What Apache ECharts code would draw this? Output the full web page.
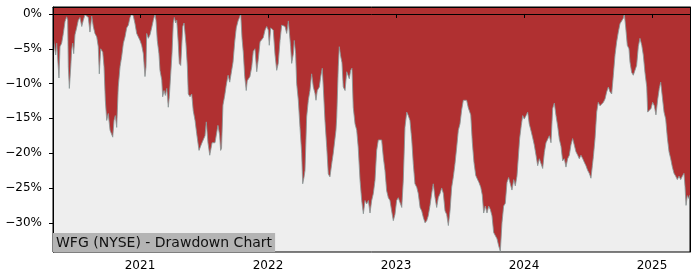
<!DOCTYPE html>
<html>
<head>
<meta charset="utf-8">
<script src="https://cdn.jsdelivr.net/npm/echarts@6/dist/echarts.min.js"></script>
<style>html,body{margin:0;padding:0;background:#fff}#c{width:700px;height:280px}</style>
</head>
<body>
<div id="c"></div>
<script>
// Chart title
const chartTitle = 'WFG (NYSE) - Drawdown Chart';
// Axis ticks
const yearTicks = [2021, 2022, 2023, 2024, 2025];
const pctTicks = [0, -5, -10, -15, -20, -25, -30];
// Drawdown (%) by decimal year
const dd2020 = [
[2020.323,-3.5],[2020.336,-3.5],[2020.341,-5.9],[2020.349,-4.2],[2020.367,-9.2],[2020.375,-4.7],[2020.388,-4.2],[2020.401,-2.8],[2020.414,-1.1],[2020.427,-0.4],
[2020.435,-0.9],[2020.440,-7.6],[2020.448,-10.7],[2020.459,-7.6],[2020.466,-5.2],[2020.474,-4.2],[2020.482,-5.7],[2020.492,-3.0],[2020.505,-2.0],[2020.518,-0.9],
[2020.531,-0.5],[2020.545,-1.8],[2020.557,-0.9],[2020.570,-0.1],[2020.584,0],[2020.596,-0.5],[2020.609,-2.6],[2020.623,-0.3],[2020.635,-1.8],[2020.648,-2.8],
[2020.662,-3.3],[2020.674,-4.7],[2020.682,-8.6],[2020.693,-5.0],[2020.709,-5.5],[2020.719,-7.6],[2020.729,-12.4],[2020.740,-15.3],[2020.752,-14.3],[2020.766,-16.7],
[2020.787,-17.7],[2020.797,-15.3],[2020.807,-14.6],[2020.818,-16.3],[2020.830,-10.5],[2020.844,-7.6],[2020.857,-6.1],[2020.870,-4.2],[2020.883,-3.3],[2020.896,-2.0],
[2020.909,-1.6],[2020.922,-0.5],[2020.935,0],[2020.948,-0.3],[2020.961,-1.4],[2020.974,-2.8],[2020.987,-3.3]
];
const dd2021 = [
[2021.000,-3.8],[2021.013,-4.5],[2021.026,-5.7],[2021.039,-9.0],[2021.047,-7.6],[2021.052,-2.8],[2021.065,-3.5],[2021.078,-3.0],[2021.091,-2.0],[2021.104,-0.9],
[2021.117,0],[2021.125,-0.9],[2021.135,-3.8],[2021.148,-5.7],[2021.156,-8.1],[2021.170,-9.5],[2021.177,-11.9],[2021.188,-11.0],[2021.198,-11.7],[2021.209,-10.7],
[2021.221,-13.4],[2021.229,-11.9],[2021.240,-8.6],[2021.250,-5.7],[2021.260,-1.3],[2021.268,-0.5],[2021.279,-1.3],[2021.287,-0.9],[2021.299,-4.2],[2021.307,-7.1],
[2021.318,-7.4],[2021.326,-7.6],[2021.334,-1.8],[2021.344,-1.3],[2021.352,-1.1],[2021.359,-4.2],[2021.370,-7.6],[2021.377,-11.5],[2021.391,-11.9],[2021.404,-11.5],
[2021.416,-13.9],[2021.430,-15.3],[2021.443,-17.2],[2021.461,-19.6],[2021.482,-18.6],[2021.508,-17.5],[2021.518,-15.5],[2021.531,-18.5],[2021.545,-20.3],[2021.563,-18.5],
[2021.586,-18.5],[2021.609,-16.0],[2021.622,-17.4],[2021.630,-19.6],[2021.637,-19.3],[2021.648,-13.1],[2021.662,-11.7],[2021.674,-10.2],[2021.688,-8.8],[2021.701,-9.8],
[2021.713,-10.0],[2021.727,-6.9],[2021.740,-4.0],[2021.752,-2.0],[2021.766,-1.0],[2021.779,-0.4],[2021.787,0],[2021.797,-3.5],[2021.807,-5.5],[2021.818,-9.0],
[2021.830,-11.0],[2021.838,-9.6],[2021.849,-9.4],[2021.859,-9.0],[2021.873,-7.6],[2021.885,-5.4],[2021.898,-5.0],[2021.912,-8.3],[2021.924,-6.5],[2021.938,-4.0],
[2021.951,-4.2],[2021.963,-3.4],[2021.977,-2.3],[2021.990,-1.8]
];
const dd2022 = [
[2022.002,-2.3],[2022.010,-4.5],[2022.021,-2.0],[2022.034,-1.8],[2022.041,-2.3],[2022.055,-5.9],[2022.068,-8.1],[2022.080,-7.1],[2022.094,-3.8],[2022.107,-1.6],
[2022.120,-1.4],[2022.133,-1.8],[2022.146,-2.8],[2022.159,-1.0],[2022.166,-0.9],[2022.177,-4.7],[2022.185,-7.1],[2022.198,-5.7],[2022.205,-3.8],[2022.216,-5.7],
[2022.224,-10.0],[2022.237,-12.4],[2022.250,-16.3],[2022.263,-20.0],[2022.271,-24.4],[2022.281,-23.5],[2022.289,-22.5],[2022.302,-14.8],[2022.315,-12.4],[2022.328,-11.0],
[2022.341,-8.6],[2022.354,-10.5],[2022.367,-11.4],[2022.375,-12.4],[2022.385,-11.0],[2022.401,-10.5],[2022.412,-9.0],[2022.424,-7.8],[2022.432,-10.5],[2022.445,-15.3],
[2022.459,-19.2],[2022.471,-23.0],[2022.484,-23.4],[2022.498,-21.5],[2022.510,-20.0],[2022.531,-16.7],[2022.537,-14.8],[2022.549,-7.6],[2022.557,-4.7],[2022.568,-6.1],
[2022.578,-7.0],[2022.588,-10.5],[2022.602,-11.0],[2022.615,-8.3],[2022.627,-8.3],[2022.635,-9.3],[2022.646,-8.1],[2022.656,-7.8],[2022.666,-13.4],[2022.680,-15.8],
[2022.693,-16.7],[2022.705,-19.2],[2022.719,-23.9],[2022.732,-26.8],[2022.745,-28.7],[2022.758,-26.8],[2022.771,-27.3],[2022.784,-26.8],[2022.797,-28.6],[2022.810,-26.8],
[2022.823,-25.8],[2022.836,-23.9],[2022.849,-19.6],[2022.862,-18.1],[2022.875,-17.9],[2022.888,-18.1],[2022.901,-20.6],[2022.914,-22.5],[2022.927,-25.4],[2022.940,-26.4],
[2022.953,-26.8],[2022.966,-28.3],[2022.979,-29.7],[2022.992,-28.8]
];
const dd2023 = [
[2023.005,-26.8],[2023.018,-26.4],[2023.031,-26.4],[2023.045,-27.8],[2023.057,-23.9],[2023.070,-16.3],[2023.084,-14.1],[2023.096,-14.6],[2023.109,-15.3],[2023.123,-18.1],
[2023.135,-21.5],[2023.148,-24.4],[2023.162,-24.9],[2023.174,-25.8],[2023.188,-27.8],[2023.201,-28.3],[2023.213,-29.2],[2023.227,-30.0],[2023.240,-29.7],[2023.252,-29.0],
[2023.266,-27.5],[2023.279,-25.8],[2023.291,-24.4],[2023.305,-26.4],[2023.318,-27.8],[2023.330,-26.4],[2023.344,-25.8],[2023.357,-25.0],[2023.370,-25.8],[2023.383,-28.3],
[2023.396,-28.8],[2023.409,-30.4],[2023.422,-28.3],[2023.435,-24.9],[2023.448,-23.4],[2023.461,-21.5],[2023.474,-19.2],[2023.487,-16.7],[2023.500,-15.8],[2023.513,-13.8],
[2023.526,-12.4],[2023.539,-12.2],[2023.552,-12.4],[2023.565,-13.5],[2023.584,-14.5],[2023.596,-18.4],[2023.609,-21.3],[2023.623,-23.2],[2023.635,-23.7],[2023.648,-24.2],
[2023.662,-24.9],[2023.674,-26.0],[2023.685,-28.6],[2023.698,-27.6],[2023.711,-28.6],[2023.724,-27.6],[2023.737,-28.1],[2023.750,-29.0],[2023.763,-31.4],[2023.776,-31.4],
[2023.789,-32.3],[2023.802,-33.3],[2023.815,-34.1],[2023.828,-30.0],[2023.841,-27.6],[2023.854,-27.2],[2023.867,-24.2],[2023.880,-23.5],[2023.893,-23.3],[2023.906,-25.3],
[2023.920,-23.8],[2023.932,-24.7],[2023.945,-23.3],[2023.959,-23.3],[2023.966,-17.9],[2023.979,-16.0],[2023.990,-14.6]
];
const dd2024 = [
[2024.002,-15.1],[2024.016,-14.6],[2024.029,-14.1],[2024.041,-15.8],[2024.055,-16.8],[2024.068,-17.8],[2024.080,-18.8],[2024.094,-20.3],[2024.107,-21.8],[2024.120,-20.8],
[2024.133,-20.8],[2024.146,-22.2],[2024.159,-19.9],[2024.172,-18.5],[2024.185,-18.3],[2024.198,-17.5],[2024.211,-18.5],[2024.224,-13.6],[2024.237,-12.8],[2024.250,-14.6],
[2024.263,-16.1],[2024.276,-18.0],[2024.289,-19.0],[2024.302,-21.1],[2024.315,-20.8],[2024.328,-22.0],[2024.341,-20.8],[2024.354,-20.3],[2024.367,-18.8],[2024.380,-17.9],
[2024.393,-17.9],[2024.406,-19.8],[2024.420,-20.3],[2024.432,-20.8],[2024.445,-20.3],[2024.459,-20.8],[2024.471,-21.3],[2024.484,-21.8],[2024.498,-22.5],[2024.510,-22.9],
[2024.523,-23.6],[2024.534,-21.8],[2024.542,-20.5],[2024.555,-17.9],[2024.568,-14.1],[2024.580,-12.7],[2024.594,-13.2],[2024.607,-13.2],[2024.620,-12.7],[2024.633,-12.2],
[2024.646,-11.2],[2024.659,-10.5],[2024.672,-11.2],[2024.685,-11.5],[2024.698,-8.8],[2024.711,-5.9],[2024.724,-4.0],[2024.737,-2.6],[2024.750,-1.4],[2024.763,-1.2],
[2024.776,-0.6],[2024.784,0],[2024.795,-2.0],[2024.807,-4.5],[2024.820,-5.0],[2024.828,-6.9],[2024.841,-8.4],[2024.854,-8.8],[2024.867,-8.6],[2024.880,-7.4],
[2024.893,-4.7],[2024.906,-3.5],[2024.920,-4.5],[2024.932,-5.9],[2024.945,-8.4],[2024.959,-10.5],[2024.966,-14.1],[2024.979,-13.9],[2024.992,-13.6]
];
const dd2025 = [
[2025.005,-12.7],[2025.018,-13.2],[2025.031,-14.5],[2025.045,-12.2],[2025.057,-10.7],[2025.068,-9.8],[2025.080,-11.8],[2025.094,-14.1],[2025.107,-15.1],[2025.120,-17.8],
[2025.133,-19.8],[2025.146,-20.8],[2025.159,-22.0],[2025.172,-22.9],[2025.185,-23.3],[2025.198,-23.8],[2025.211,-23.3],[2025.224,-23.8],[2025.237,-23.3],[2025.250,-22.9],
[2025.258,-24.8],[2025.266,-27.5],[2025.276,-26.1],[2025.287,-26.5],[2025.297,-26.0]
];
const xRange = [2020.3203, 2025.2969];
const yRange = [-34.2, 1.0];

const seriesData = [].concat(dd2020, dd2021, dd2022, dd2023, dd2024, dd2025);
const FONT = 'DejaVu Sans';
const fmtPct = v => (v < 0 ? '\u2212' + Math.abs(v) : String(v)) + '%';

const chart = echarts.init(document.getElementById('c'), null, {renderer: 'canvas'});
chart.setOption({
  animation: false,
  title: {
    text: chartTitle,
    left: 53, top: 233,
    padding: [2, 3, 1, 3],
    backgroundColor: '#b4b4b4',
    textStyle: {fontFamily: FONT, fontSize: 14, fontWeight: 'normal', color: '#111', lineHeight: 16}
  },
  grid: {
    left: 53, right: 10, top: 7, bottom: 28,
    show: true, backgroundColor: '#eeeeee', borderColor: '#000', borderWidth: 1
  },
  xAxis: [{
    type: 'value', min: xRange[0], max: xRange[1], z: 5,
    axisLine: {show: true, lineStyle: {color: '#000', width: 1}},
    axisTick: {show: true, length: 4, lineStyle: {color: '#000'}, customValues: yearTicks},
    axisLabel: {customValues: yearTicks, formatter: v => String(Math.round(v)), fontFamily: FONT, fontSize: 12, color: '#000', margin: 8},
    splitLine: {show: false}
  }, {
    type: 'value', position: 'top', min: xRange[0], max: xRange[1], z: 5,
    axisLine: {show: true, onZero: false, lineStyle: {color: '#000', width: 1}},
    axisTick: {show: false}, axisLabel: {show: false}, splitLine: {show: false}
  }],
  yAxis: [{
    type: 'value', min: yRange[0], max: yRange[1], z: 5,
    axisLine: {show: true, onZero: false, lineStyle: {color: '#000', width: 1}},
    axisTick: {show: true, length: 4, lineStyle: {color: '#000'}, customValues: pctTicks},
    axisLabel: {customValues: pctTicks, formatter: fmtPct, fontFamily: FONT, fontSize: 12, color: '#000', margin: 8, padding: [0, 3, 0, 0]},
    splitLine: {show: false}
  }, {
    type: 'value', position: 'right', min: yRange[0], max: yRange[1], z: 5,
    axisLine: {show: true, onZero: false, lineStyle: {color: '#000', width: 1}},
    axisTick: {show: false}, axisLabel: {show: false}, splitLine: {show: false}
  }],
  series: [{
    type: 'line',
    xAxisIndex: 0, yAxisIndex: 0,
    data: seriesData,
    showSymbol: false,
    symbol: 'none',
    lineStyle: {color: '#8a9696', width: 1, opacity: 0.85},
    areaStyle: {origin: 'end', color: '#b03031', opacity: 1},
    z: 2
  }]
});
</script>
</body>
</html>
